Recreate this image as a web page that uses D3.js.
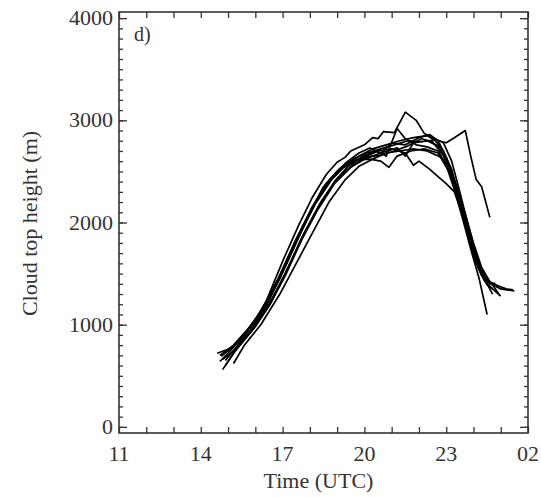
<!DOCTYPE html>
<html>
<head>
<meta charset="utf-8">
<script src="https://cdn.jsdelivr.net/npm/d3@7"></script>
<style>
  body { margin: 0; background: #fff; }
  svg text { font-family: "Liberation Serif", "DejaVu Serif", serif; fill: #333; }
</style>
</head>
<body>
<div id="chart"></div>
<script>
// ensemble members: [hour UTC (past midnight > 24), cloud top height m]
const member1 = [[14.9,650],[15.3,780],[15.8,960],[16.4,1230],[17.0,1620],[17.6,1980],[18.1,2250],[18.6,2470],[19.0,2590],[19.3,2640],[19.5,2700],[20.0,2760],[20.3,2830],[20.5,2820],[20.7,2890],[21.1,2880],[21.5,3080],[21.9,3000],[22.2,2870],[22.5,2830],[22.9,2780],[23.2,2600],[23.5,2300],[23.8,1980],[24.1,1680],[24.4,1460],[24.7,1390],[25.0,1350],[25.5,1330]]
const member2 = [[14.7,700],[15.2,800],[15.7,950],[16.3,1150],[16.9,1450],[17.5,1800],[18.1,2150],[18.6,2380],[19.1,2530],[19.6,2620],[20.1,2680],[20.6,2720],[21.1,2760],[21.6,2800],[22.1,2790],[22.6,2810],[23.0,2780],[23.3,2830],[23.7,2900],[23.9,2650],[24.1,2420],[24.3,2350],[24.45,2200],[24.6,2050]]
const member3 = [[14.8,560],[15.2,720],[15.8,920],[16.5,1200],[17.1,1500],[17.7,1850],[18.3,2150],[18.9,2400],[19.4,2550],[19.9,2640],[20.4,2700],[20.8,2650],[21.2,2920],[21.5,2820],[21.9,2760],[22.3,2740],[22.7,2700],[23.0,2560],[23.3,2320],[23.6,2040],[23.9,1740],[24.2,1460],[24.5,1100]]
const member4 = [[14.6,720],[15.1,770],[15.6,900],[16.2,1130],[16.8,1430],[17.4,1780],[18.0,2100],[18.5,2350],[19.0,2500],[19.5,2590],[20.0,2640],[20.5,2700],[21.0,2720],[21.5,2680],[21.8,2560],[22.0,2600],[22.4,2520],[22.7,2450],[23.0,2380],[23.3,2300],[23.6,2080],[23.9,1800],[24.2,1540],[24.5,1390],[24.7,1350],[25.0,1280]]
const member5 = [[14.7,640],[15.1,750],[15.7,930],[16.3,1150],[16.9,1460],[17.5,1820],[18.1,2150],[18.7,2400],[19.2,2530],[19.7,2610],[20.2,2620],[20.6,2600],[20.9,2540],[21.2,2650],[21.7,2700],[22.2,2720],[22.7,2680],[23.1,2500],[23.4,2260],[23.7,1980],[24.0,1700],[24.3,1480],[24.6,1400],[24.8,1405]]
const member6 = [[14.9,600],[15.3,760],[15.9,950],[16.5,1180],[17.1,1480],[17.7,1830],[18.3,2130],[18.9,2380],[19.5,2540],[20.0,2620],[20.6,2680],[21.2,2730],[21.5,2650],[21.8,2780],[22.3,2800],[22.7,2750],[23.0,2620],[23.35,2380],[23.7,2080],[24.0,1800],[24.3,1560],[24.6,1420],[24.9,1380],[25.2,1350],[25.45,1340]]
const member7 = [[15.0,700],[15.4,790],[16.0,980],[16.6,1230],[17.2,1560],[17.8,1900],[18.4,2200],[19.0,2430],[19.6,2570],[20.1,2640],[20.6,2660],[21.1,2700],[21.6,2750],[22.1,2820],[22.5,2790],[22.9,2650],[23.2,2440],[23.5,2180],[23.8,1880],[24.1,1620],[24.4,1450],[24.7,1300]]
const member8 = [[14.8,660],[15.2,740],[15.8,930],[16.4,1180],[17.0,1520],[17.6,1870],[18.2,2180],[18.8,2420],[19.3,2560],[19.8,2650],[20.3,2720],[20.8,2760],[21.3,2800],[21.8,2830],[22.3,2850],[22.6,2800],[22.9,2700],[23.2,2520],[23.5,2240],[23.8,1940],[24.1,1660],[24.4,1480],[24.7,1390],[24.95,1290]]
const member9 = [[15.2,620],[15.6,800],[16.2,1000],[16.9,1300],[17.5,1600],[18.1,1900],[18.7,2200],[19.3,2420],[19.8,2550],[20.3,2620],[20.8,2680],[21.3,2700],[21.8,2720],[22.3,2700],[22.8,2640],[23.2,2460],[23.5,2180],[23.8,1880],[24.1,1600],[24.4,1430],[24.7,1350]]
const member10 = [[14.75,690],[15.2,790],[15.7,940],[16.3,1170],[16.9,1480],[17.5,1840],[18.1,2160],[18.7,2410],[19.3,2580],[19.8,2680],[20.2,2730],[20.6,2680],[21.0,2780],[21.5,2760],[22.0,2830],[22.4,2860],[22.7,2800],[23.0,2640],[23.3,2400],[23.6,2120],[23.9,1830],[24.2,1580],[24.5,1410]]

const members = [member1, member2, member3, member4, member5, member6, member7, member8, member9, member10]

const xTickHours = [11, 14, 17, 20, 23, 26]
const xTickLabels = ['11', '14', '17', '20', '23', '02']
const yTicks = [0, 1000, 2000, 3000, 4000]

const canvasWidth = 541
const canvasHeight = 497
const margins = {top: 12, right: 13, bottom: 64, left: 119}
const width = canvasWidth - margins.left - margins.right
const height = canvasHeight - margins.top - margins.bottom

const xScale = d3.scaleLinear().domain([11, 26]).range([0, width])
const yScale = d3.scaleLinear().domain([-60, 4060]).range([height, 0])

const svg = d3
  .select('#chart')
  .append('svg')
  .attr('width', canvasWidth)
  .attr('height', canvasHeight)
  .append('g')
  .attr('transform', `translate(${margins.left}, ${margins.top})`)

// tick marks point inward on all four sides
const hourTicks = d3.range(11, 27)
const minorY = d3.range(0, 4001, 100)

const tickStroke = '#333'

svg
  .append('g')
  .attr('transform', `translate(0, ${height})`)
  .call(d3.axisBottom(xScale).tickValues(hourTicks).tickSizeInner(-6).tickSizeOuter(0).tickFormat(''))
svg
  .append('g')
  .call(d3.axisTop(xScale).tickValues(hourTicks).tickSizeInner(-6).tickSizeOuter(0).tickFormat(''))

svg
  .append('g')
  .call(d3.axisLeft(yScale).tickValues(minorY).tickSizeInner(-4).tickSizeOuter(0).tickFormat(''))
svg
  .append('g')
  .call(d3.axisLeft(yScale).tickValues(yTicks).tickSizeInner(-8).tickSizeOuter(0).tickFormat(''))
svg
  .append('g')
  .attr('transform', `translate(${width}, 0)`)
  .call(d3.axisRight(yScale).tickValues(minorY).tickSizeInner(-4).tickSizeOuter(0).tickFormat(''))
svg
  .append('g')
  .attr('transform', `translate(${width}, 0)`)
  .call(d3.axisRight(yScale).tickValues(yTicks).tickSizeInner(-8).tickSizeOuter(0).tickFormat(''))

svg.selectAll('.domain').remove()
svg.selectAll('.tick line').attr('stroke', tickStroke).attr('stroke-width', 1.3)

svg
  .append('rect')
  .attr('width', width)
  .attr('height', height)
  .attr('fill', 'none')
  .attr('stroke', tickStroke)
  .attr('stroke-width', 1.6)

// tick labels
svg
  .selectAll('text.xlab')
  .data(xTickHours)
  .enter()
  .append('text')
  .attr('class', 'xlab')
  .attr('x', d => xScale(d))
  .attr('y', height + 28)
  .attr('font-size', 22)
  .style('text-anchor', 'middle')
  .text((d, i) => xTickLabels[i])

svg
  .selectAll('text.ylab')
  .data(yTicks)
  .enter()
  .append('text')
  .attr('class', 'ylab')
  .attr('x', -6)
  .attr('y', d => yScale(d) + 7)
  .attr('font-size', 22)
  .style('text-anchor', 'end')
  .text(d => d)

svg
  .append('text')
  .attr('transform', `translate(${width / 2 - 5}, ${height + 55})`)
  .attr('font-size', 22)
  .style('text-anchor', 'middle')
  .text('Time (UTC)')

svg
  .append('text')
  .attr('transform', `translate(-82, ${height / 2 + 1}) rotate(-90)`)
  .attr('font-size', 22)
  .style('text-anchor', 'middle')
  .text('Cloud top height (m)')

svg
  .append('text')
  .attr('x', 15)
  .attr('y', 29)
  .attr('font-size', 20)
  .text('d)')

const line = d3
  .line()
  .x(d => xScale(d[0]))
  .y(d => yScale(d[1]))

svg
  .selectAll('path.member')
  .data(members)
  .enter()
  .append('path')
  .attr('class', 'member')
  .attr('d', line)
  .attr('fill', 'none')
  .attr('stroke', '#000')
  .attr('stroke-width', 1.7)
  .attr('stroke-linejoin', 'round')
</script>
</body>
</html>
